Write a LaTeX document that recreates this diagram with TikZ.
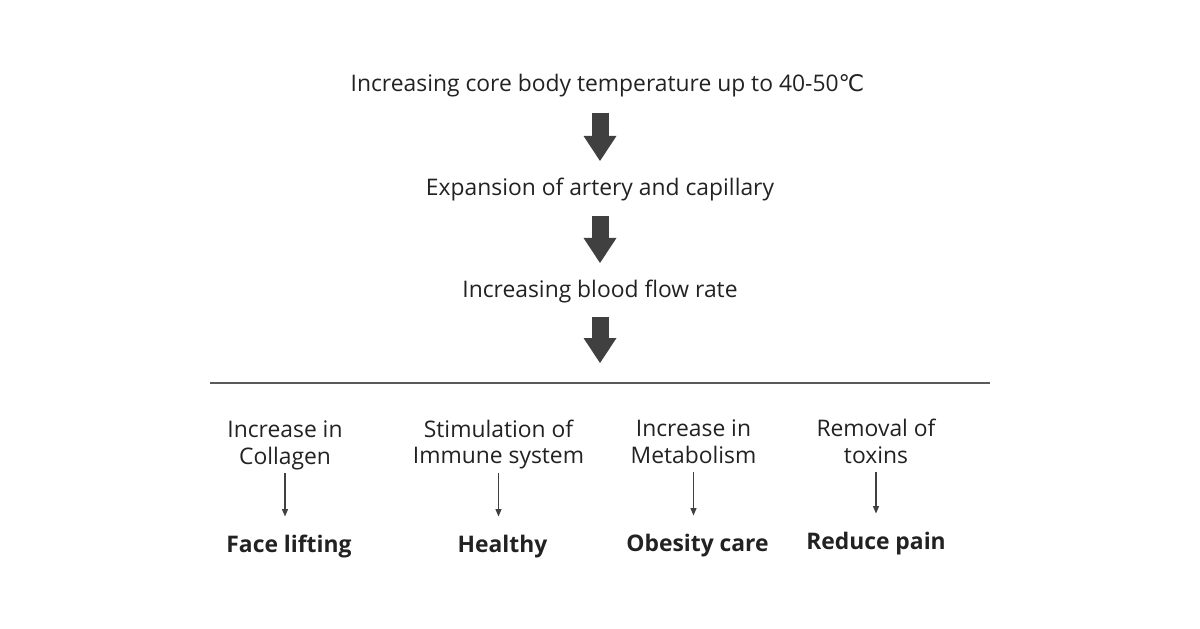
\documentclass[tikz,border=0pt]{standalone}
\usepackage{fontspec}
\setmainfont{Open Sans}
\newfontfamily\symfont{DejaVu Sans}
\usepackage{tikz}
\usetikzlibrary{calc}
\usetikzlibrary{arrows.meta,positioning}

\definecolor{textgray}{HTML}{222222}
\definecolor{arrowgray}{HTML}{404040}
\definecolor{linegray}{HTML}{5A5A5A}

\tikzset{
  mainText/.style={text=textgray,font=\fontsize{13}{15}\selectfont,inner sep=0pt,anchor=base,text height=9.5pt,text depth=3pt},
  causeText/.style={text=textgray,font=\fontsize{13}{14.8}\selectfont,align=center,inner sep=0pt,anchor=base},
  effectText/.style={text=textgray,font=\fontsize{13}{15}\selectfont\bfseries,inner sep=0pt,anchor=base,text height=9.5pt,text depth=3pt},
  bigArrow/.style={arrowgray,line width=0.34cm,-{Triangle[width=0.66cm,length=0.5cm,line width=0pt]}},
  smallArrow/.style={arrowgray,line width=0.7pt,-{Triangle[width=3.6pt,length=4.2pt,line width=0pt]}}
}

\begin{document}
\begin{tikzpicture}

\coordinate (LEFTCORNER) at (0,0);
\useasboundingbox (LEFTCORNER) rectangle ++(24,-12.56);
\node[inner sep=0pt] at (LEFTCORNER) (input) {};

%%%%%%%%%%%%%%%%%%%%%

%draw chain of causes
\node[mainText] at ($(input)+(12.15,-1.84)$) (TEMP) {Increasing core body temperature up to 40-50{\symfont ℃}};
\node[mainText] at ($(input)+(12.0,-3.90)$) (EXPAND) {Expansion of artery and capillary};
\node[mainText] at ($(input)+(12.0,-5.94)$) (FLOW) {Increasing blood flow rate};
\coordinate (SPLIT) at ($(input)+(12.0,-7.26)$);

%draw big arrows between them
\draw[bigArrow,shorten <=0.3cm,shorten >=0.34cm] (EXPAND.north |- TEMP.south) -- (EXPAND.north) {} ;
\draw[bigArrow,shorten <=0.3cm,shorten >=0.34cm] (FLOW.north |- EXPAND.south) -- (FLOW.north) {} ;
\draw[bigArrow,shorten <=0.28cm] (FLOW.south) -- (SPLIT) {} ;

%%%%%%%

%draw separating line
\coordinate (LINELEFT) at ($(input)+(4.2,-7.66)$);
\coordinate (LINERIGHT) at ($(input)+(19.8,-7.66)$);
\draw[linegray,line width=0.6pt] (LINELEFT) -- (LINERIGHT);

%%%%%%%%%%%%%%%%%%%
%draw effects (base of a two-line node is its last line)

\node[causeText] at ($(input)+(5.70,-9.28)$) (CAUSE1) {Increase in\\Collagen\strut};
\node[effectText] at ($(input)+(5.78,-11.04)$) (EFFECT1) {Face lifting};
\draw[smallArrow,shorten <=0.02cm,shorten >=0.37cm] (CAUSE1.south) -- (CAUSE1.south |- EFFECT1.north) {} ;

\node[causeText] at ($(input)+(9.97,-9.27)$) (CAUSE2) {Stimulation of\\Immune system\strut};
\node[effectText] at ($(input)+(10.05,-11.04)$) (EFFECT2) {Healthy};
\draw[smallArrow,shorten <=0.02cm,shorten >=0.37cm] (CAUSE2.south) -- (CAUSE2.south |- EFFECT2.north) {} ;

\node[causeText] at ($(input)+(13.87,-9.26)$) (CAUSE3) {Increase in\\Metabolism\strut};
\node[effectText] at ($(input)+(13.95,-11.02)$) (EFFECT3) {Obesity care};
\draw[smallArrow,shorten <=0.02cm,shorten >=0.37cm] (CAUSE3.south) -- (CAUSE3.south |- EFFECT3.north) {} ;

\node[causeText] at ($(input)+(17.52,-9.26)$) (CAUSE4) {Removal of\\toxins\strut};
\node[effectText] at ($(input)+(17.52,-10.98)$) (EFFECT4) {Reduce pain};
\draw[smallArrow,shorten <=0.02cm,shorten >=0.37cm] (CAUSE4.south) -- (CAUSE4.south |- EFFECT4.north) {} ;

%%%%%%%%%%%%%%%%%%%%%%

\end{tikzpicture}
\end{document}
